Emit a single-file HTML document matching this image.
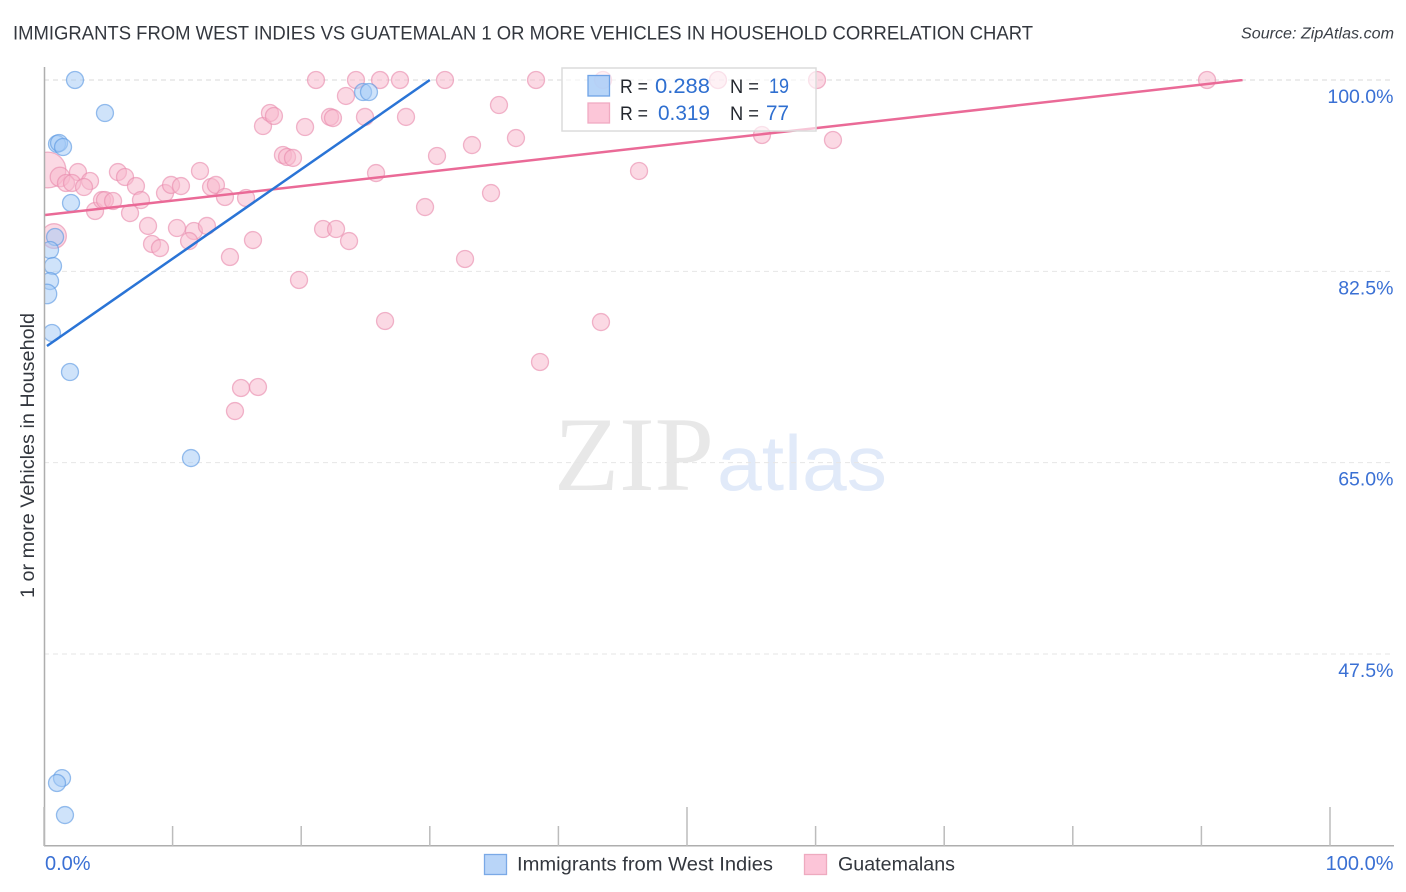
<!DOCTYPE html>
<html lang="en">
<head>
<meta charset="utf-8">
<title>Immigrants from West Indies vs Guatemalan 1 or more Vehicles in Household Correlation Chart</title>
<style>
html,body{margin:0;padding:0;background:#fff;width:1406px;height:892px;overflow:hidden}
svg{display:block}
text{font-family:"Liberation Sans",sans-serif}
</style>
</head>
<body>
<svg id="chart" xmlns="http://www.w3.org/2000/svg" width="1406" height="892" viewBox="0 0 1406 892">
  <defs>
    <clipPath id="plot-clip"><rect x="44" y="60" width="1350" height="786"/></clipPath>
    <clipPath id="trend-clip"><rect x="44" y="79" width="1350" height="767"/></clipPath>
  </defs>
  <text x="13" y="39.5" font-size="19.5" fill="#33373e" textLength="1020" lengthAdjust="spacingAndGlyphs">IMMIGRANTS FROM WEST INDIES VS GUATEMALAN 1 OR MORE VEHICLES IN HOUSEHOLD CORRELATION CHART</text>
  <text x="1241" y="38.5" font-size="15.5" font-style="italic" fill="#3a3f47" textLength="153" lengthAdjust="spacingAndGlyphs">Source: ZipAtlas.com</text>

  <g>
    <text x="554" y="490" font-size="106" fill="#e8e8e8" style="font-family:'Liberation Serif',serif" textLength="160" lengthAdjust="spacingAndGlyphs">ZIP</text>
    <text x="717" y="490" font-size="78" fill="#e1eaf9" textLength="170" lengthAdjust="spacingAndGlyphs">atlas</text>
  </g>

  <g id="grid"></g>
  <g id="pink-points" clip-path="url(#plot-clip)"></g>
  <g id="blue-points" clip-path="url(#plot-clip)"></g>
  <g id="trends" clip-path="url(#trend-clip)"></g>
  <g id="axes"></g>

  <text transform="translate(34,598) rotate(-90)" font-size="19.5" fill="#33373e" textLength="285" lengthAdjust="spacingAndGlyphs">1 or more Vehicles in Household</text>

  <g>
    <rect x="562" y="68" width="254" height="63" fill="#fff" fill-opacity="0.62" stroke="#dcdcdc" stroke-width="1.5"/>
    <rect x="588" y="75.500" width="21.500" height="20.500" fill="#a9ccf7" fill-opacity="0.85" stroke="#6fa3e6" stroke-width="1.3"/>
    <rect x="588" y="103" width="21.500" height="20" fill="#fcc3d6" fill-opacity="0.95" stroke="#f0aac2" stroke-width="1.3"/>
    <text x="620" y="93" font-size="19.500" fill="#24282f" textLength="28" lengthAdjust="spacingAndGlyphs">R =</text>
    <text x="655" y="93" font-size="21" fill="#2f6fd0" textLength="55" lengthAdjust="spacingAndGlyphs">0.288</text>
    <text x="730" y="93" font-size="19.500" fill="#24282f" textLength="29" lengthAdjust="spacingAndGlyphs">N =</text>
    <text x="769" y="93" font-size="21" fill="#2f6fd0" textLength="20" lengthAdjust="spacingAndGlyphs">19</text>
    <text x="620" y="120" font-size="19.500" fill="#24282f" textLength="28" lengthAdjust="spacingAndGlyphs">R =</text>
    <text x="658" y="120" font-size="21" fill="#2f6fd0" textLength="52" lengthAdjust="spacingAndGlyphs">0.319</text>
    <text x="730" y="120" font-size="19.500" fill="#24282f" textLength="29" lengthAdjust="spacingAndGlyphs">N =</text>
    <text x="766" y="120" font-size="21" fill="#2f6fd0" textLength="23" lengthAdjust="spacingAndGlyphs">77</text>
  </g>

  <g>
    <g>
      <rect x="484.500" y="854.500" width="22" height="20" fill="#b9d5f8" stroke="#7aa9e6" stroke-width="1.3"/>
      <text x="517" y="870.500" font-size="19.500" fill="#33373e" textLength="256" lengthAdjust="spacingAndGlyphs">Immigrants from West Indies</text>
    </g>
    <g>
      <rect x="804.500" y="854.500" width="22" height="20" fill="#fcc5d8" stroke="#eeaabf" stroke-width="1.3"/>
      <text x="838" y="870.500" font-size="19.500" fill="#33373e" textLength="117" lengthAdjust="spacingAndGlyphs">Guatemalans</text>
    </g>
  </g>
</svg>
<script>
// Series values (x = Immigrants from West Indies %, y = Vehicles %)
const blueX = [2.41,4.74,1.01,1.17,1.48,2.10,0.86,0.47,0.70,0.47,0.23,0.62,2.02,11.43,24.81,25.27,1.40,1.01,1.63];
const blueY = [100,96.98,94.15,94.24,93.87,88.75,85.64,84.45,82.99,81.61,80.43,76.86,73.29,65.42,98.90,98.90,36.15,35.70,32.77];
const blueSize = [1,1,1,1,1,1,1,1,1,1,1.15,1,1,1,1,1,1,1,1];

const pinkX = [0.31,0.78,1.24,2.64,1.71,2.18,3.58,3.11,5.75,6.30,7.15,7.54,3.97,4.51,4.74,5.37,6.69,8.09,8.40,9.02,10.34,11.66,11.28,12.67,9.41,9.88,10.65,12.13,12.99,13.37,14.07,15.71,16.25,14.46,19.83,17.03,17.57,17.88,18.58,18.90,19.36,20.30,21.15,24.26,26.13,27.68,31.18,38.26,52.41,60.11,90.44,23.48,22.24,22.47,24.96,28.15,35.38,33.28,36.70,30.56,25.82,34.76,29.63,21.70,22.71,23.72,32.74,26.52,43.31,38.57,15.32,16.64,14.85,55.83,61.35,46.27,43.47];
const pinkY = [91.77,85.73,91.13,91.58,90.58,90.58,90.76,90.21,91.58,91.13,90.30,89.02,88.02,89.02,89.02,88.93,87.83,86.65,85.00,84.63,86.46,86.19,85.27,86.65,89.66,90.40,90.30,91.68,90.21,90.40,89.30,89.21,85.36,83.81,81.71,95.79,96.98,96.71,93.14,92.96,92.87,95.70,100,100,100,100,100,100,100,100,100,98.54,96.62,96.52,96.62,96.62,97.71,94.05,94.69,93.05,91.49,89.66,88.38,86.37,86.37,85.27,83.63,77.96,77.86,74.21,71.83,71.92,69.72,94.97,94.51,91.68,100];
const pinkSize = [2.1,1.45,1.15,1,1,1,1,1,1,1,1,1,1,1,1,1,1,1,1,1,1,1,1,1,1,1,1,1,1,1,1,1,1,1,1,1,1,1,1,1,1,1,1,1,1,1,1,1,1,1,1,1,1,1,1,1,1,1,1,1,1,1,1,1,1,1,1,1,1,1,1,1,1,1,1,1,1];

// Trend lines (endpoints in data units)
const blueTrendX = [0.23,30.0];
const blueTrendY = [75.67,100];
const pinkTrendX = [0.08,93.2];
const pinkTrendY = [87.65,100];

// Ticks
const xTicks = [0,10,20,30,40,50,60,70,80,90,100];
const xMajorTicks = [0,50,100];
const xEdgeValues = [0,100];
const xEdgeLabels = ["0.0%","100.0%"];
const yTicks = [100,82.5,65,47.5];
const yTickLabels = ["100.0%","82.5%","65.0%","47.5%"];

const NS = "http://www.w3.org/2000/svg";
const BASE_R = 8.5;
function xScale(v){ return 44 + v * 12.86; }
function yScale(v){ return 80 + (100 - v) * 10.9333; }
function make(parent, tag, attrs){
  const el = document.createElementNS(NS, tag);
  for (const k in attrs) el.setAttribute(k, attrs[k]);
  parent.appendChild(el);
  return el;
}

const gridG = document.getElementById("grid");
yTicks.forEach(function(v, i){
  const gl = make(gridG, "line", {x1:44, x2:1394, y1:yScale(v), y2:yScale(v), stroke: i === 0 ? "#d8d8d8" : "#e6e6e6", "stroke-width":1, "stroke-dasharray":"5 4"});
  
  
});

function drawPoints(groupId, xs, ys, sizes, fill, stroke, name){
  const g = document.getElementById(groupId);
  xs.forEach(function(x, i){
    const c = make(g, "circle", {cx:xScale(x), cy:yScale(ys[i]), r:BASE_R * sizes[i], fill:fill, "fill-opacity":0.52, stroke:stroke, "stroke-opacity":0.62, "stroke-width":1.3});
    
    
  });
}
drawPoints("pink-points", pinkX, pinkY, pinkSize, "#f8b6cb", "#e98bad", "guatemalans-point");
drawPoints("blue-points", blueX, blueY, blueSize, "#a3c9f5", "#5b97e2", "west-indies-point");

const trendG = document.getElementById("trends");
const trendPink = make(trendG, "line", {x1:xScale(pinkTrendX[0]), y1:yScale(pinkTrendY[0]), x2:xScale(pinkTrendX[1]), y2:yScale(pinkTrendY[1]), stroke:"#ea6a97", "stroke-width":2.5});


const trendBlue = make(trendG, "line", {x1:xScale(blueTrendX[0]), y1:yScale(blueTrendY[0]), x2:xScale(blueTrendX[1]), y2:yScale(blueTrendY[1]), stroke:"#2a74d6", "stroke-width":2.5});



const axesG = document.getElementById("axes");
const yAxis = make(axesG, "line", {x1:44.5, x2:44.5, y1:67, y2:846, stroke:"#aeaeae", "stroke-width":1.5});


const xAxis = make(axesG, "line", {x1:44, x2:1394, y1:845.7, y2:845.7, stroke:"#aeaeae", "stroke-width":1.5});



xTicks.forEach(function(v){
  const top = xMajorTicks.indexOf(v) >= 0 ? 807 : 826;
  const t = make(axesG, "line", {x1:xScale(v), x2:xScale(v), y1:top, y2:846, stroke:"#bcbcbc", "stroke-width":1.5});
  
  
});

yTicks.forEach(function(v, i){
  const lbl = make(axesG, "text", {x:1393.5, y:yScale(v) + 23, "text-anchor":"end", "font-size":19.5, fill:"#3a70d4"});
  lbl.textContent = yTickLabels[i];
  
  
});

xEdgeValues.forEach(function(v, i){
  const anchor = i === 0 ? "start" : "end";
  const lx = i === 0 ? xScale(v) + 1 : 1393.5;
  const lbl = make(axesG, "text", {x:lx, y:870, "text-anchor":anchor, "font-size":20, fill:"#3a70d4"});
  lbl.textContent = xEdgeLabels[i];
  
  
});
</script>
</body>
</html>
